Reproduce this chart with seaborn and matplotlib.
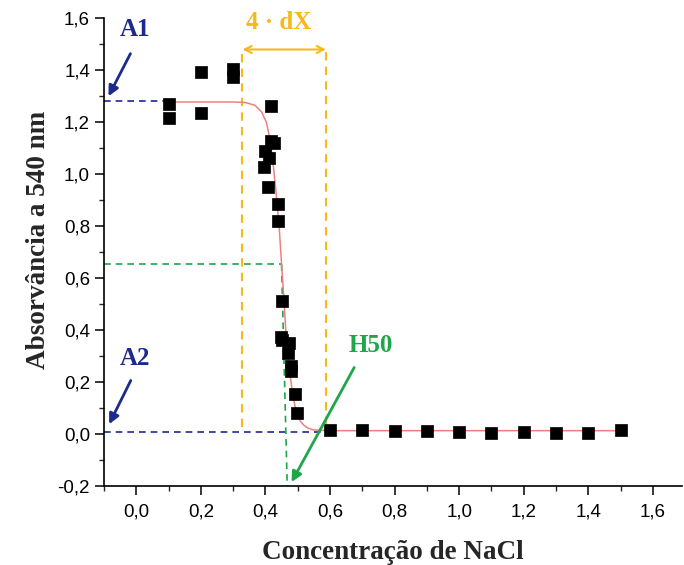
import numpy as np
import pandas as pd
import matplotlib
matplotlib.use("Agg")
import matplotlib.pyplot as plt
from matplotlib.ticker import MultipleLocator, FuncFormatter
import seaborn as sns

# ---- data ----
conc = [0.10, 0.10, 0.20, 0.20, 0.30, 0.30, 0.417, 0.417, 0.427, 0.400, 0.410, 0.397, 0.408,
        0.440, 0.440, 0.452, 0.447, 0.450, 0.472, 0.469, 0.478, 0.480, 0.491, 0.498,
        0.60, 0.70, 0.80, 0.90, 1.00, 1.10, 1.20, 1.30, 1.40, 1.50]
absorb = [1.270, 1.218, 1.393, 1.235, 1.405, 1.375, 1.262, 1.128, 1.119, 1.088, 1.062, 1.028, 0.950,
          0.884, 0.820, 0.511, 0.375, 0.362, 0.352, 0.310, 0.262, 0.243, 0.153, 0.082,
          0.016, 0.014, 0.010, 0.010, 0.006, 0.005, 0.006, 0.005, 0.005, 0.014]

fit_x = [0.10, 0.30, 0.338, 0.368, 0.388, 0.403, 0.413, 0.423, 0.433, 0.443, 0.450, 0.457,
         0.463, 0.472, 0.483, 0.491, 0.498, 0.508, 0.518, 0.533, 0.548, 0.600, 1.500]
fit_y = [1.278, 1.278, 1.276, 1.265, 1.240, 1.200, 1.140, 1.050, 0.930, 0.790, 0.654, 0.525,
         0.400, 0.270, 0.166, 0.110, 0.076, 0.050, 0.035, 0.022, 0.016, 0.013, 0.013]

A1 = 1.28
A2 = 0.008
H50_x = 0.450
H50_y = 0.654
dX_left = 0.329
dX_right = 0.5875

x_ticks = [0.0, 0.2, 0.4, 0.6, 0.8, 1.0, 1.2, 1.4, 1.6]
y_ticks = [-0.2, 0.0, 0.2, 0.4, 0.6, 0.8, 1.0, 1.2, 1.4, 1.6]

pts = pd.DataFrame({"x": conc, "y": absorb})
fit = pd.DataFrame({"x": fit_x, "y": fit_y})

# ---- style ----
sns.set_style("ticks")
plt.rcParams["font.family"] = ["Liberation Sans", "DejaVu Sans"]

fig = plt.figure(figsize=(6.84, 5.65), dpi=100)
ax = fig.add_axes([0.152, 0.1398, 0.845, 0.8278])

navy = "#1c2a8c"
gold = "#f7b918"
green = "#1fa64a"
red = "#f08080"

# annotation lines
ax.plot([-0.1, 0.098], [A1, A1], ls=(0, (4, 3)), color=navy, lw=1.2, zorder=1)
ax.plot([-0.1, 0.60], [A2, A2], ls=(0, (4, 3)), color=navy, lw=1.2, zorder=1)
ax.plot([-0.1, H50_x], [H50_y, H50_y], ls=(0, (4, 3)), color=green, lw=1.2, zorder=1)
ax.plot([H50_x, 0.4675], [H50_y, -0.2], ls=(0, (4, 3)), color=green, lw=1.2, zorder=1)
ax.plot([dX_left, dX_left], [0.028, 1.48], ls=(0, (4, 3)), color=gold, lw=1.5, zorder=1)
ax.plot([dX_right, dX_right], [0.035, 1.48], ls=(0, (4, 3)), color=gold, lw=1.5, zorder=1)

sns.lineplot(data=fit, x="x", y="y", ax=ax, color=red, lw=1.1, zorder=2, sort=False)
sns.scatterplot(data=pts, x="x", y="y", ax=ax, marker="s", s=72, color="black",
                edgecolor="black", linewidth=0.5, zorder=3)

# arrows and labels
serif = ["Liberation Serif", "DejaVu Serif"]
ax.annotate("", xy=(-0.086, 1.30), xytext=(-0.018, 1.464),
            arrowprops=dict(arrowstyle="-|>,head_length=0.6,head_width=0.3", color=navy, lw=2,
                            shrinkA=0, shrinkB=0))
ax.text(-0.004, 1.558, "A1", color=navy, fontsize=18, fontweight="bold", family=serif,
        ha="center", va="center")
ax.annotate("", xy=(-0.084, 0.038), xytext=(-0.017, 0.206),
            arrowprops=dict(arrowstyle="-|>,head_length=0.6,head_width=0.3", color=navy, lw=2,
                            shrinkA=0, shrinkB=0))
ax.text(-0.004, 0.29, "A2", color=navy, fontsize=18, fontweight="bold", family=serif,
        ha="center", va="center")
ax.annotate("", xy=(dX_left, 1.48), xytext=(dX_right, 1.48),
            arrowprops=dict(arrowstyle="<->,head_length=0.5,head_width=0.25", color=gold, lw=1.5,
                            shrinkA=0, shrinkB=0))
ax.text(0.44, 1.585, "4 · dX", color=gold, fontsize=18, fontweight="bold", family=serif,
        ha="center", va="center")
ax.annotate("", xy=(0.481, -0.185), xytext=(0.675, 0.256),
            arrowprops=dict(arrowstyle="-|>,head_length=0.6,head_width=0.3", color=green, lw=2,
                            shrinkA=0, shrinkB=0))
ax.text(0.727, 0.339, "H50", color=green, fontsize=18, fontweight="bold", family=serif,
        ha="center", va="center")

# axes
ax.set_xlim(-0.1, 1.69)
ax.set_ylim(-0.2, 1.6)
ax.set_xticks(x_ticks)
ax.set_yticks(y_ticks)
ax.xaxis.set_minor_locator(MultipleLocator(0.1))
ax.yaxis.set_minor_locator(MultipleLocator(0.1))
fmt = FuncFormatter(lambda v, p: f"{v:.1f}".replace(".", ",").replace("-0,0", "0,0"))
ax.xaxis.set_major_formatter(fmt)
ax.yaxis.set_major_formatter(fmt)
ax.tick_params(which="major", length=6.5, width=1.1, direction="out", labelsize=13.5, colors="black")
ax.tick_params(axis="x", which="major", pad=6)
ax.tick_params(which="minor", length=3.5, width=1.0, direction="out")
for s in ["top", "right"]:
    ax.spines[s].set_visible(False)
for s in ["left", "bottom"]:
    ax.spines[s].set_linewidth(1.2)
    ax.spines[s].set_color("black")

ax.set_xlabel("Concentração de NaCl", fontsize=19.5, fontweight="bold", family=serif, labelpad=14)
ax.set_ylabel("Absorvância a 540 nm", fontsize=19.5, fontweight="bold", family=serif)
ax.yaxis.set_label_coords(-0.114, 0.526)
ax.yaxis.label.set_va("center")

fig.savefig("out.png", dpi=100)
